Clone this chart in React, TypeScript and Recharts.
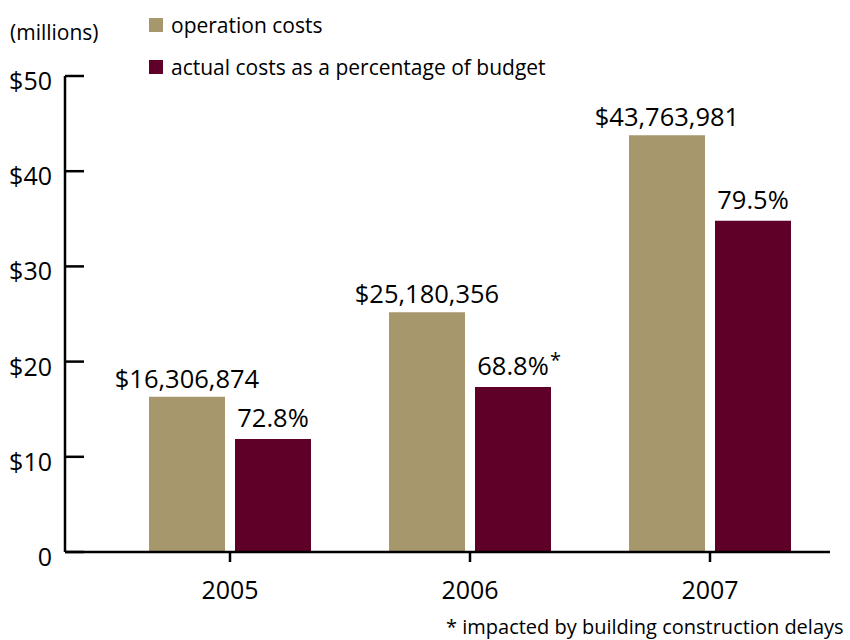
import React from 'react';
import { BarChart, Bar, XAxis, YAxis, LabelList } from 'recharts';

const years = ['2005', '2006', '2007'];
const operationCosts = [16.306874, 25.180356, 43.763981];
const actualCosts = [11.87, 17.32, 34.79];
const costLabels = ['$16,306,874', '$25,180,356', '$43,763,981'];
const percentLabels = ['72.8%', '68.8%', '79.5%'];
const percentNotes = ['', '*', ''];
const yTicks = [0, 10, 20, 30, 40, 50];
const seriesNames = ['operation costs', 'actual costs as a percentage of budget'];
const unitLabel = '(millions)';
const footnote = '* impacted by building construction delays';

const TAN = '#A6976C';
const MAROON = '#5E0028';
const FONT = '"Open Sans", "Noto Sans", sans-serif';

const data = years.map((year, i) => ({
  year,
  operation: operationCosts[i],
  actual: actualCosts[i],
  costLabel: costLabels[i],
  pctLabel: percentLabels[i],
  note: percentNotes[i],
}));

const YTick = (props: any) => {
  const { x, y, payload } = props;
  const v = payload.value;
  const label = v === 0 ? '0' : `$${v}`;
  return (
    <g>
      <line x1={x + 13} x2={x + 32} y1={y} y2={y} stroke="#000" strokeWidth={2.5} />
      <text x={x} y={y + 14} textAnchor="end" fontSize={25} fontFamily={FONT} fill="#000">
        {label}
      </text>
    </g>
  );
};

const PctLabel = (props: any) => {
  const { x, y, width, index } = props;
  const d = data[index];
  const cx = x + width / 2;
  return (
    <g>
      <text x={cx} y={y - 12} textAnchor="middle" fontSize={25.5} fontFamily={FONT} fill="#000">
        {d.pctLabel}
      </text>
      {d.note ? (
        <text x={cx + 37} y={y - 20} textAnchor="start" fontSize={20} fontFamily={FONT} fill="#000">
          {d.note}
        </text>
      ) : null}
    </g>
  );
};

export default function App() {
  return (
    <div style={{ position: 'absolute', left: 0, top: 0, width: 850, height: 640, background: '#fff' }}>
      <BarChart
        width={850}
        height={640}
        data={data}
        margin={{ top: 76, right: 20, bottom: 0, left: 0 }}
        barSize={76}
        barGap={10}
      >
        <XAxis
          dataKey="year"
          height={88}
          padding={{ left: 45, right: 0 }}
          axisLine={{ stroke: '#000', strokeWidth: 2.5 }}
          tickLine={{ stroke: '#000', strokeWidth: 2.5 }}
          tickSize={10}
          tickMargin={19}
          tick={{ fill: '#000', fontSize: 25, fontFamily: FONT }}
        />
        <YAxis
          width={65}
          domain={[0, 50]}
          ticks={yTicks}
          interval={0}
          axisLine={{ stroke: '#000', strokeWidth: 2.5 }}
          tickLine={false}
          tickSize={0}
          tickMargin={13}
          tick={<YTick />}
        />
        <Bar dataKey="operation" name={seriesNames[0]} fill={TAN} isAnimationActive={false}>
          <LabelList
            dataKey="costLabel"
            position="top"
            offset={9}
            fill="#000"
            fontSize={25.5}
            fontFamily={FONT}
          />
        </Bar>
        <Bar dataKey="actual" name={seriesNames[1]} fill={MAROON} isAnimationActive={false}>
          <LabelList dataKey="pctLabel" content={<PctLabel />} />
        </Bar>
      </BarChart>
      <svg
        width={850}
        height={640}
        style={{ position: 'absolute', left: 0, top: 0, pointerEvents: 'none' }}
        fontFamily={FONT}
      >
        <text x={10} y={40} fontSize={21} fill="#000">{unitLabel}</text>
        <rect x={149} y={18} width={14} height={14} fill={TAN} />
        <text x={171} y={33} fontSize={21} fill="#000">{seriesNames[0]}</text>
        <rect x={149} y={60} width={14} height={14} fill={MAROON} />
        <text x={171} y={75} fontSize={21} fill="#000">{seriesNames[1]}</text>
        <text x={446} y={634} fontSize={20} fill="#000">{footnote}</text>
      </svg>
    </div>
  );
}
